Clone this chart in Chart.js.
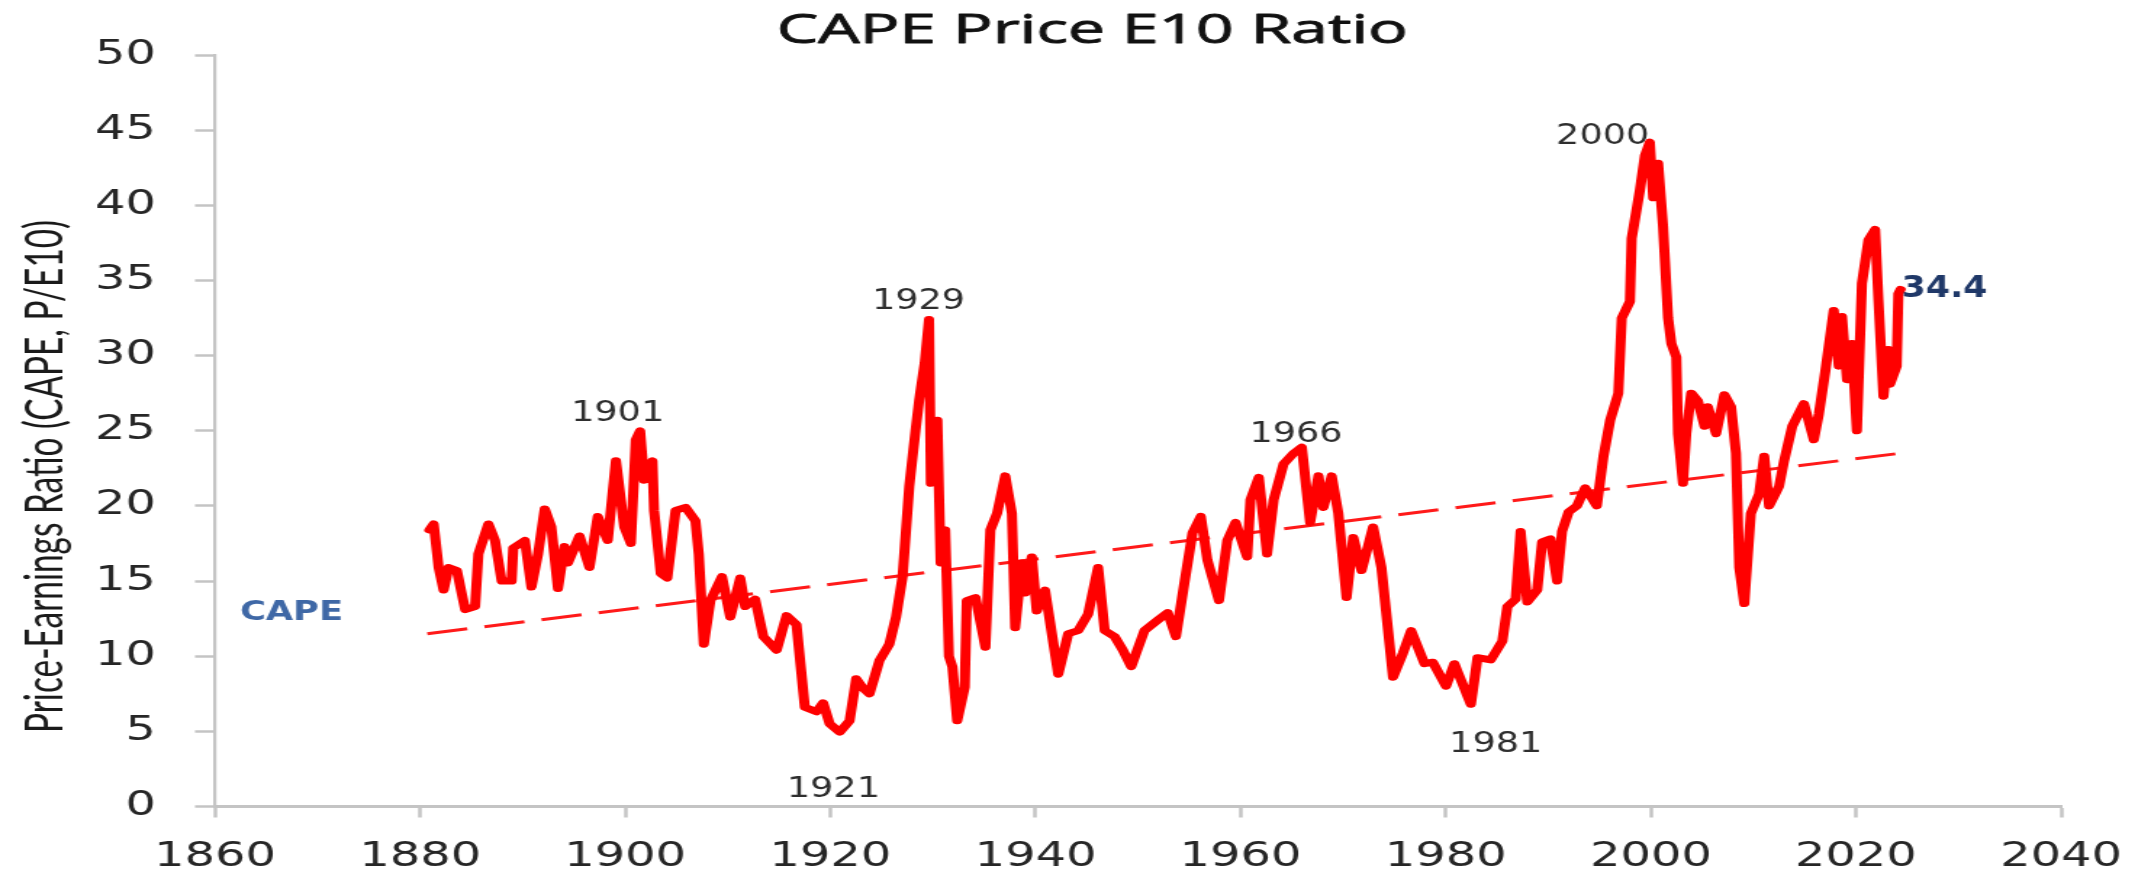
<!DOCTYPE html>
<html>
<head>
<meta charset="utf-8">
<script src="https://cdn.jsdelivr.net/npm/chart.js@4.4.1/dist/chart.umd.min.js"></script>
<style>
html,body{margin:0;padding:0;background:#fff;overflow:hidden;}
#wrap{position:absolute;left:0;top:0;width:1483px;height:871px;transform-origin:0 0;transform:scaleX(1.450438);}
</style>
</head>
<body>
<div id="wrap"><canvas id="c"></canvas></div>
<script>
// ---- data ----
const capeYears = [
1880.9,1881.32,1881.81,1882.29,1882.78,1883.58,1884.39,1885.36,1885.68,1886.65,
1887.30,1887.95,1888.92,1889.08,1890.21,1890.85,1891.50,1892.15,1892.79,1893.44,
1894.08,1894.41,1895.54,1896.51,1897.32,1898.29,1899.09,1899.90,1900.55,1901.03,
1901.45,1901.84,1902.65,1902.81,1903.46,1904.10,1904.91,1905.88,1906.85,1907.17,
1907.66,1908.30,1909.43,1910.24,1911.21,1911.69,1912.66,1913.47,1914.76,1915.73,
1916.70,1917.51,1918.64,1919.29,1919.93,1920.90,1921.87,1922.52,1923.16,1923.81,
1924.78,1925.75,1926.40,1927.04,1927.69,1928.30,1928.65,1929.20,1929.62,1929.80,
1930.43,1930.75,1931.20,1931.56,1931.90,1932.37,1933.10,1933.30,1934.15,1935.12,
1935.60,1936.25,1937.05,1937.70,1938.02,1938.67,1938.99,1939.64,1940.12,1940.93,
1942.22,1943.19,1944.16,1945.13,1946.10,1946.75,1947.72,1948.52,1949.33,1950.62,
1951.92,1952.89,1953.69,1954.50,1955.31,1956.12,1956.76,1957.89,1958.70,1959.51,
1960.64,1960.96,1961.77,1962.58,1963.22,1964.19,1965.16,1965.97,1966.78,1967.59,
1968.07,1968.88,1969.53,1970.33,1970.98,1971.79,1972.92,1973.73,1974.86,1975.83,
1976.63,1977.93,1978.74,1980.03,1980.84,1982.45,1983.10,1984.39,1985.52,1986.01,
1986.82,1987.30,1987.95,1988.92,1989.40,1990.21,1990.86,1991.34,1991.99,1992.79,
1993.60,1994.73,1995.38,1996.03,1996.83,1997.16,1997.96,1998.13,1998.93,1999.42,
1999.90,2000.23,2000.71,2001.19,2001.68,2002.00,2002.48,2002.65,2003.13,2003.45,
2003.94,2004.58,2005.23,2005.55,2006.36,2007.17,2007.82,2008.30,2008.62,2009.11,
2009.75,2010.56,2011.05,2011.53,2012.50,2012.99,2013.79,2014.92,2015.89,2016.38,
2017.02,2017.83,2018.32,2018.64,2019.12,2019.61,2020.09,2020.58,2021.22,2021.87,
2022.19,2022.52,2022.68,2023.16,2023.32,2023.97,2024.13,2024.35
];
const capeValues = [
18.4,18.8,15.9,14.4,15.9,15.7,13.1,13.3,16.8,18.8,
17.7,15.0,15.0,17.2,17.7,14.6,16.8,19.8,18.6,14.5,
17.3,16.2,18.0,15.9,19.3,17.7,23.0,18.6,17.5,24.4,
25.0,21.7,23.0,19.7,15.5,15.2,19.7,19.9,19.0,16.8,
10.8,13.7,15.3,12.6,15.2,13.3,13.8,11.3,10.4,12.7,
12.1,6.6,6.3,6.9,5.5,4.95,5.7,8.5,7.9,7.5,
9.7,10.8,12.6,15.3,21.3,25.0,27.0,29.5,32.4,21.5,
25.7,16.2,18.4,10.0,9.3,5.7,7.95,13.7,13.9,10.6,
18.4,19.5,22.0,19.5,11.9,16.2,14.2,16.6,13.0,14.4,
8.8,11.5,11.7,12.8,15.9,11.7,11.3,10.4,9.3,11.7,
12.4,12.9,11.3,14.8,18.2,19.3,16.4,13.7,17.7,18.9,
16.6,20.4,21.9,16.8,20.4,22.8,23.5,23.9,18.9,22.0,
19.9,22.0,19.5,13.9,17.9,15.7,18.6,15.9,8.6,10.2,
11.7,9.5,9.6,8.0,9.5,6.8,9.9,9.75,11.0,13.3,
13.8,18.3,13.6,14.4,17.6,17.8,15.0,18.3,19.6,20.0,
21.2,20.0,23.3,25.7,27.5,32.5,33.6,37.8,41.0,43.3,
44.2,40.5,42.8,38.6,32.5,30.8,29.9,24.8,21.5,24.8,
27.5,27.0,25.3,26.6,24.8,27.4,26.6,23.5,15.9,13.5,
19.5,20.8,23.3,20.0,21.3,23.0,25.3,26.8,24.4,26.1,
29.0,33.0,29.3,32.6,28.4,30.8,25.0,34.8,37.7,38.4,
33.7,29.3,27.3,30.4,28.1,29.3,34.1,34.4
];
const trendYears = [1880.7, 2024.3];
const trendValues = [11.5, 23.5];

const xTickValues = [1860, 1880, 1900, 1920, 1940, 1960, 1980, 2000, 2020, 2040];
const yTickValues = [0, 5, 10, 15, 20, 25, 30, 35, 40, 45, 50];

const noteLabels = ['1901', '1921', '1929', '1966', '1981', '2000'];
const noteYears  = [1899.26, 1920.3, 1928.6, 1965.4, 1984.87, 1995.3];
const noteValues = [26.15, 1.13, 33.6, 24.75, 4.15, 44.58];

const lastLabel = '34.4';
const lastYear = 2024.3;
const lastValue = 34.4;
const seriesLabel = 'CAPE';
const seriesLabelYear = 1867.46;
const seriesLabelValue = 12.9;

const chartTitle = 'CAPE Price E10 Ratio';
const yTitle = 'Price-Earnings Ratio (CAPE, P/E10)';

// ---- build ----
const capePoints = capeYears.map((yr, i) => ({x: yr, y: capeValues[i]}));
const trendPoints = trendYears.map((yr, i) => ({x: yr, y: trendValues[i]}));

function drawText(ctx, text, px, py, font, color, align, baseline, hs, targetW, strokeW) {
  ctx.save();
  ctx.font = font;
  let s = hs;
  if (targetW) s = targetW / ctx.measureText(text).width;
  ctx.translate(px, py);
  ctx.scale(s, 1);
  ctx.fillStyle = color;
  ctx.textAlign = align;
  ctx.textBaseline = baseline;
  ctx.fillText(text, 0, 0);
  if (strokeW) {
    ctx.strokeStyle = color;
    ctx.lineWidth = strokeW;
    ctx.lineJoin = 'round';
    ctx.strokeText(text, 0, 0);
  }
  ctx.restore();
}

const notesPlugin = {
  id: 'notes',
  afterDatasetsDraw(chart) {
    const {ctx, scales: {x, y}} = chart;
    // title
    drawText(ctx, chartTitle, 753, 43, '40px "Open Sans"', '#111111', 'center', 'alphabetic', 1, 435, 0.9);
    // y axis title (rotated)
    ctx.save();
    ctx.translate(43, 476.5);
    ctx.rotate(-Math.PI / 2);
    ctx.font = '36px Lato';
    const sw = 513 / ctx.measureText(yTitle).width;
    ctx.scale(sw, 1);
    ctx.fillStyle = '#1a1a1a';
    ctx.textAlign = 'center';
    ctx.textBaseline = 'alphabetic';
    ctx.fillText(yTitle, 0, 0);
    ctx.restore();
    // year notes
    noteLabels.forEach((t, i) => {
      drawText(ctx, t, x.getPixelForValue(noteYears[i]), y.getPixelForValue(noteValues[i]),
        '29px "DejaVu Sans"', '#2e2e2e', 'center', 'middle', 0.87);
    });
    drawText(ctx, lastLabel, x.getPixelForValue(lastYear) + 1, y.getPixelForValue(lastValue),
      'bold 30px "DejaVu Sans"', '#1f3868', 'left', 'middle', 0.8);
    drawText(ctx, seriesLabel, x.getPixelForValue(seriesLabelYear), y.getPixelForValue(seriesLabelValue),
      'bold 27px "DejaVu Sans"', '#3f68a6', 'center', 'middle', 0.9);
  }
};

const axisGray = '#c4c4c4';
const tickFont = {family: '"DejaVu Sans"', size: 33};

new Chart(document.getElementById('c'), {
  type: 'line',
  data: {
    datasets: [
      {
        label: 'CAPE',
        data: capePoints,
        borderColor: '#ff0000',
        borderWidth: 7,
        pointRadius: 0,
        tension: 0,
        borderJoinStyle: 'round',
        borderCapStyle: 'round',
        fill: false
      },
      {
        label: 'Trend',
        data: trendPoints,
        borderColor: '#ff1a1a',
        borderWidth: 3,
        borderDash: [28, 12],
        pointRadius: 0,
        tension: 0,
        fill: false
      }
    ]
  },
  options: {
    responsive: true,
    maintainAspectRatio: false,
    animation: false,
    devicePixelRatio: 1,
    layout: {padding: {top: 55, left: 0, right: 54.5, bottom: 0}},
    plugins: {
      legend: {display: false},
      title: {display: false},
      tooltip: {enabled: false}
    },
    scales: {
      x: {
        type: 'linear',
        min: 1860, max: 2040,
        afterBuildTicks: (s) => { s.ticks = xTickValues.map(v => ({value: v})); },
        afterFit: (s) => { s.height = 64.5; },
        ticks: {
          color: '#262626',
          font: tickFont,
          padding: 20,
          maxRotation: 0,
          autoSkip: false,
          callback: (v) => String(v)
        },
        grid: {display: true, drawOnChartArea: false, drawTicks: true, tickLength: 11, tickColor: axisGray, tickWidth: 2.5},
        border: {display: true, color: axisGray, width: 3}
      },
      y: {
        type: 'linear',
        min: 0, max: 50,
        afterBuildTicks: (s) => { s.ticks = yTickValues.map(v => ({value: v})); },
        afterFit: (s) => { s.width = 148.23; },
        ticks: {
          color: '#262626',
          font: tickFont,
          padding: 27,
          autoSkip: false,
          callback: (v) => String(v)
        },
        grid: {display: true, drawOnChartArea: false, drawTicks: true, tickLength: 13.8, tickColor: axisGray, tickWidth: 2.5},
        border: {display: true, color: axisGray, width: 2.2}
      }
    }
  },
  plugins: [notesPlugin]
});
</script>
</body>
</html>
